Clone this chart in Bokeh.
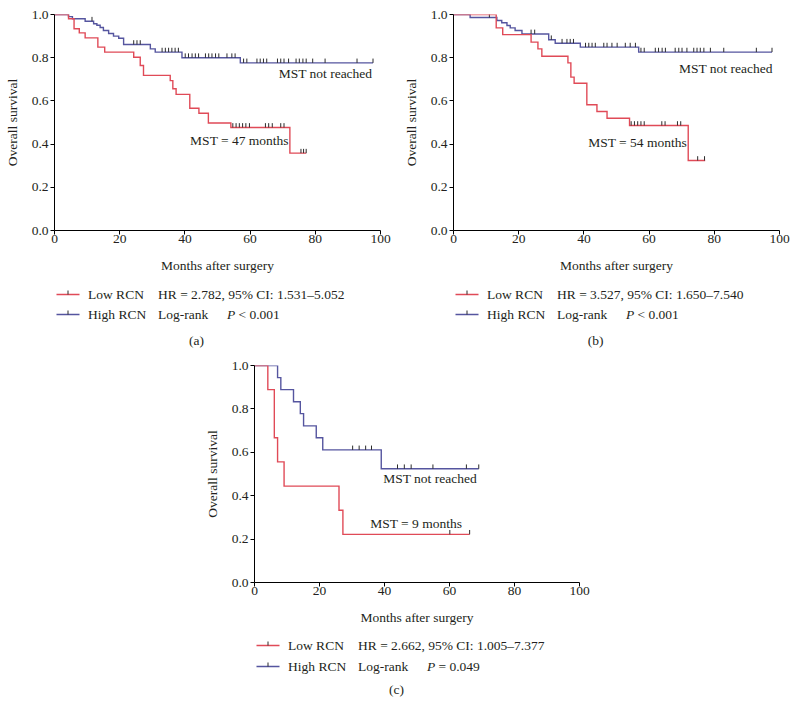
import numpy as np
from bokeh.plotting import figure
from bokeh.layouts import row, column
from bokeh.models import Range1d, FixedTicker, Spacer
from bokeh.core.properties import value
from bokeh.embed import file_html
from bokeh.resources import INLINE

FONT = "Liberation Serif"
FS = "13.5px"
RED = "#e04a57"
BLUE = "#55559f"
TICKC = "#2b2b2b"
TXT = "#231f20"

# ---------------- axes ----------------
x_ticks = [0, 20, 40, 60, 80, 100]
x_tick_labels = ["0", "20", "40", "60", "80", "100"]
y_ticks = [0.0, 0.2, 0.4, 0.6, 0.8, 1.0]
y_tick_labels = ["0.0", "0.2", "0.4", "0.6", "0.8", "1.0"]
x_label = "Months after surgery"
y_label = "Overall survival"

# ---------------- panel (a) ----------------
a_low_times = [4.3, 6.0, 7.6, 9.4, 13.3, 15.4, 24.3, 26.3, 27.3, 35.5, 36.3, 37.3, 41.5, 44.3, 47.2, 54.1, 72.2]
a_low_surv = [0.980, 0.934, 0.915, 0.892, 0.849, 0.826, 0.802, 0.764, 0.718, 0.694, 0.656, 0.630, 0.566, 0.543, 0.498, 0.477, 0.358]
a_low_end = 77.2
a_low_cens = [54.7, 55.7, 56.7, 57.7, 58.7, 59.8, 64.7, 65.7, 66.8, 69.4, 70.4, 75.6, 76.4, 77.2]

a_high_times = [4.3, 5.5, 9.4, 12.0, 13.0, 14.0, 15.0, 16.6, 18.1, 19.7, 21.2, 29.4, 30.9, 39.1, 57.0]
a_high_surv = [0.990, 0.980, 0.969, 0.957, 0.950, 0.940, 0.926, 0.912, 0.900, 0.890, 0.861, 0.841, 0.826, 0.800, 0.776]
a_high_end = 97.7
a_high_cens = [11.5, 24.3, 25.3, 26.3, 33.0, 34.0, 35.0, 36.0, 37.0, 38.0, 40.1, 41.1, 42.2, 43.2, 44.2,
               46.3, 47.3, 48.3, 49.4, 50.4, 52.9, 54.4, 55.4, 58.0, 59.0, 62.1, 63.1, 64.1, 65.1,
               68.4, 69.4, 70.4, 71.8, 74.1, 75.1, 76.2, 77.2, 79.2, 83.0, 92.8, 97.7]
a_hr_text = "HR = 2.782, 95% CI: 1.531\u20135.052"
a_p_text = "< 0.001"
a_mst_low = "MST = 47 months"
a_mst_high = "MST not reached"

# ---------------- panel (b) ----------------
b_low_times = [13.1, 15.1, 23.8, 25.9, 27.1, 35.1, 36.0, 37.0, 40.9, 44.0, 47.1, 54.0, 72.0]
b_low_surv = [0.938, 0.907, 0.872, 0.841, 0.807, 0.776, 0.710, 0.682, 0.582, 0.551, 0.520, 0.486, 0.324]
b_low_end = 77.2
b_low_cens = [54.5, 55.5, 56.5, 57.5, 58.5, 63.9, 64.9, 68.7, 69.7, 74.9, 77.0]

b_high_times = [5.1, 13.3, 14.8, 16.4, 17.4, 18.9, 21.0, 29.2, 31.2, 38.9, 56.8]
b_high_surv = [0.986, 0.972, 0.962, 0.949, 0.938, 0.926, 0.910, 0.883, 0.867, 0.849, 0.826]
b_high_end = 97.7
b_high_cens = [11.0, 23.8, 24.9, 30.0, 33.3, 34.8, 35.8, 36.8, 40.5, 41.5, 42.5, 43.5, 46.1, 47.1,
               48.6, 50.2, 52.7, 54.2, 55.8, 57.5, 58.5, 61.9, 62.9, 64.0, 65.0, 68.0, 69.1, 70.1,
               71.6, 73.7, 74.7, 75.7, 76.8, 78.8, 82.9, 92.9, 97.7]
b_hr_text = "HR = 3.527, 95% CI: 1.650\u20137.540"
b_p_text = "< 0.001"
b_mst_low = "MST = 54 months"
b_mst_high = "MST not reached"

# ---------------- panel (c) ----------------
c_low_times = [4.1, 6.1, 7.1, 9.1, 26.0, 27.2]
c_low_surv = [0.889, 0.667, 0.556, 0.444, 0.333, 0.222]
c_low_end = 66.2
c_low_cens = [60.1, 66.2]

c_high_times = [7.1, 8.1, 12.0, 14.1, 15.1, 19.0, 21.0, 39.0]
c_high_surv = [0.944, 0.889, 0.833, 0.778, 0.722, 0.667, 0.611, 0.524]
c_high_end = 69.0
c_high_cens = [30.2, 32.2, 34.2, 36.0, 44.0, 46.1, 48.2, 54.9, 65.2, 69.0]
c_hr_text = "HR = 2.662, 95% CI: 1.005\u20137.377"
c_p_text = "= 0.049"
c_mst_low = "MST = 9 months"
c_mst_high = "MST not reached"

group_labels = ["Low RCN", "High RCN"]


def surv_at(t, times, surv):
    idx = np.searchsorted(np.asarray(times), np.asarray(t), side="right")
    return np.asarray([1.0] + list(surv))[idx]


def km_curve(p, times, surv, end, cens, color):
    xs = [0.0] + list(times) + [end]
    ys = [1.0] + list(surv) + [surv[-1]]
    p.step(xs, ys, mode="after", line_color=color, line_width=1.4, line_join="miter")
    cy = surv_at(cens, times, surv)
    p.segment(x0=cens, x1=cens, y0=cy, y1=cy + 0.02, line_color=TICKC, line_width=1)


def txt(p, x, y, s, align="left", style="normal"):
    p.text(x=[x], y=[y], text=[s], text_font=value(FONT), text_font_size=FS,
           text_color=TXT, text_align=align, text_baseline="middle", text_font_style=style)


def plot_panel(w, h, bl, br, bt, bb, low, high, mst_low, mst_high, high_pos, high_align, low_pos):
    p = figure(width=w, height=h, x_range=Range1d(0, 100), y_range=Range1d(0, 1),
               output_backend="svg", toolbar_location=None,
               min_border_left=bl, min_border_right=br, min_border_top=bt, min_border_bottom=bb)
    p.outline_line_color = None
    p.xgrid.visible = False
    p.ygrid.visible = False
    km_curve(p, *high, BLUE)
    km_curve(p, *low, RED)
    for ax in (p.xaxis[0], p.yaxis[0]):
        ax.axis_line_color = "black"
        ax.major_tick_line_color = "black"
        ax.major_tick_out = 4
        ax.major_tick_in = 0
        ax.minor_tick_line_color = None
        ax.major_label_text_font = FONT
        ax.major_label_text_font_size = FS
        ax.major_label_text_color = TXT
        ax.axis_label_text_font = FONT
        ax.axis_label_text_font_size = FS
        ax.axis_label_text_font_style = "normal"
        ax.axis_label_text_color = TXT
    p.xaxis.major_label_standoff = 0
    p.yaxis.major_label_standoff = 2
    p.xaxis.ticker = FixedTicker(ticks=x_ticks)
    p.xaxis.major_label_overrides = dict(zip(x_ticks, x_tick_labels))
    p.yaxis.ticker = FixedTicker(ticks=y_ticks)
    p.yaxis.major_label_overrides = dict(zip(y_ticks, y_tick_labels))
    p.xaxis.axis_label = x_label
    p.yaxis.axis_label = y_label
    p.xaxis.axis_label_standoff = 12
    p.yaxis.axis_label_standoff = 9
    txt(p, high_pos[0], high_pos[1], mst_high, align=high_align)
    txt(p, low_pos[0], low_pos[1], mst_low)
    return p


def legend_panel(w, h, bl, br, rows_y, tag_y, hr_text, p_text, tag):
    fw = w - bl - br
    p = figure(width=w, height=h, x_range=Range1d(0, fw), y_range=Range1d(h, 0),
               output_backend="svg", toolbar_location=None,
               min_border_left=bl, min_border_right=br, min_border_top=0, min_border_bottom=0,
               x_axis_type=None, y_axis_type=None)
    p.outline_line_color = None
    p.xgrid.visible = False
    p.ygrid.visible = False
    for yy, col, lab in zip(rows_y, [RED, BLUE], group_labels):
        p.segment(x0=[2], x1=[25], y0=[yy], y1=[yy], line_color=col, line_width=1.4)
        p.segment(x0=[13.5], x1=[13.5], y0=[yy], y1=[yy - 4], line_color=TICKC, line_width=1)
        txt(p, 33.5, yy, lab)
    txt(p, 103.5, rows_y[0], hr_text)
    txt(p, 103.5, rows_y[1], "Log-rank")
    txt(p, 172.5, rows_y[1], "P", style="italic")
    txt(p, 184, rows_y[1], p_text)
    txt(p, 142, tag_y, tag, align="center")
    return p


pa = plot_panel(400, 280, 54, 20, 14, 50,
                (a_low_times, a_low_surv, a_low_end, a_low_cens),
                (a_high_times, a_high_surv, a_high_end, a_high_cens),
                a_mst_low, a_mst_high, (97.5, 0.727), "right", (41.6, 0.417))
la = legend_panel(400, 78, 54, 20, [14, 34], 60, a_hr_text, a_p_text, "(a)")

pb = plot_panel(394, 280, 53, 15, 14, 50,
                (b_low_times, b_low_surv, b_low_end, b_low_cens),
                (b_high_times, b_high_surv, b_high_end, b_high_cens),
                b_mst_low, b_mst_high, (97.9, 0.75), "right", (41.3, 0.407))
lb = legend_panel(394, 78, 53, 15, [14, 34], 60, b_hr_text, b_p_text, "(b)")

pc = plot_panel(399, 274, 54, 20, 7, 50,
                (c_low_times, c_low_surv, c_low_end, c_low_cens),
                (c_high_times, c_high_surv, c_high_end, c_high_cens),
                c_mst_low, c_mst_high, (39.6, 0.479), "left", (35.6, 0.271))
lc = legend_panel(399, 68, 54, 20, [13, 34], 57, c_hr_text, c_p_text, "(c)")

top = row(column(pa, la), column(pb, lb))
bottom = row(Spacer(width=200, height=342), column(pc, lc))
layout = column(top, bottom)

open("out.html", "w").write(file_html(layout, INLINE))
